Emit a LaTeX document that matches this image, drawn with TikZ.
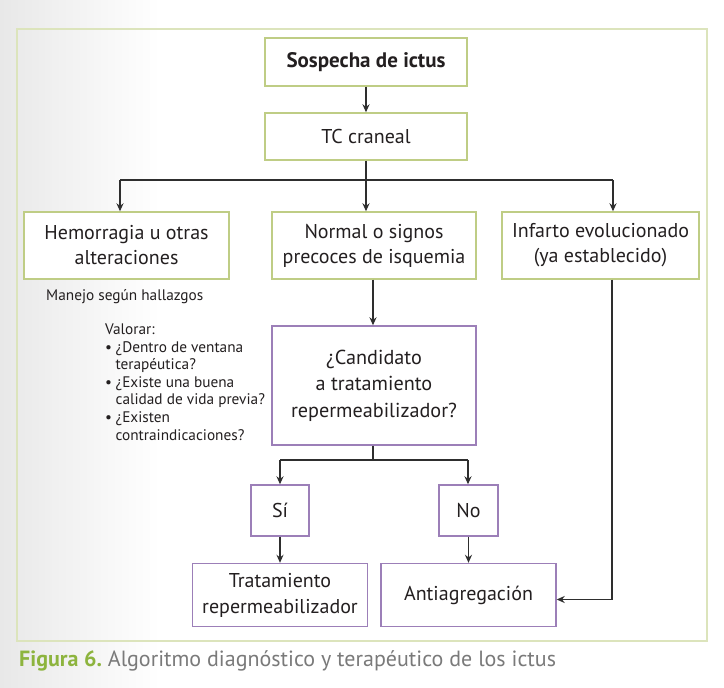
\documentclass[tikz,border=0pt]{standalone}
\usepackage{fontspec}
\setmainfont{PT Sans}
\usetikzlibrary{arrows.meta}
\definecolor{frameg}{HTML}{DCE4BC}
\definecolor{boxg}{HTML}{BFCD85}
\definecolor{boxp}{HTML}{9C7FB8}
\definecolor{capg}{HTML}{8DB43E}
\definecolor{capgray}{HTML}{7A7A7A}
\definecolor{ln}{HTML}{2E2E2E}
\definecolor{txt}{HTML}{231F20}
\begin{document}
\begin{tikzpicture}[x=1pt,y=-1pt,
  box/.style={line width=1.4pt, fill=white, align=center, inner sep=0pt,
    font=\fontsize{20}{25}\selectfont, text=txt},
  gbox/.style={box, draw=boxg},
  pbox/.style={box, draw=boxp},
  conn/.style={draw=ln, line width=1.4pt},
  arr/.style={conn, -{Stealth[length=8pt,width=7pt]}},
  note/.style={inner sep=0pt, font=\fontsize{15.3}{17.6}\selectfont, text=txt}]
\useasboundingbox (0,0) rectangle (724,688);
\fill[left color=black!9, right color=white] (0,0) rectangle (160,688);
\fill[white] (160,0) rectangle (724,688);
\draw[frameg, line width=1.6pt] (17,29) rectangle (707,641);

\node[gbox, minimum width=202pt, minimum height=48pt, font=\bfseries\fontsize{21}{25}\selectfont] (sos) at (366,62) {Sospecha de ictus};
\node[gbox, minimum width=202pt, minimum height=47pt] (tc) at (366,136.5) {TC craneal};
\node[gbox, minimum width=205pt, minimum height=67pt] (hem) at (126.5,245.5) {Hemorragia u otras\\alteraciones};
\node[gbox, minimum width=204pt, minimum height=67pt] (nor) at (374,245.5) {Normal o signos\\precoces de isquemia};
\node[gbox, minimum width=197pt, minimum height=67pt] (inf) at (600.5,245.5) {Infarto evolucionado\\(ya establecido)};
\node[pbox, minimum width=204pt, minimum height=119pt, font=\fontsize{20.2}{26.5}\selectfont] (cand) at (374,385.5) {¿Candidato\\a tratamiento\\repermeabilizador?};
\node[pbox, minimum width=58pt, minimum height=51pt] (si) at (280,510.5) {Sí};
\node[pbox, minimum width=59pt, minimum height=51pt] (no) at (468.5,510.5) {No};
\node[pbox, minimum width=175pt, minimum height=63pt, font=\fontsize{20}{26}\selectfont] (trat) at (280,595) {Tratamiento\\repermeabilizador};
\node[pbox, minimum width=175pt, minimum height=63pt] (anti) at (468.5,595) {Antiagregación};

\node[note, anchor=west] (man) at (46,297) {Manejo según hallazgos};
\node[note, anchor=north west] (val) at (105,322) {\begin{tabular}{@{}l@{\hspace{3.5pt}}l@{}}
\multicolumn{2}{@{}l@{}}{Valorar:}\\
\textbullet & ¿Dentro de ventana\\
 & terapéutica?\\
\textbullet & ¿Existe una buena\\
 & calidad de vida previa?\\
\textbullet & ¿Existen\\
 & contraindicaciones?
\end{tabular}};

\coordinate (bar) at (366,180);
\coordinate (barL) at (120,180);
\coordinate (barR) at (613,180);
\coordinate (cbar) at (373,460);
\coordinate (cbarL) at (280,460);
\coordinate (cbarR) at (468,460);
\coordinate (corner) at (612,599.5);

\draw[arr] (sos.south) -- (tc.north);
\draw[conn] (tc.south) -- (bar);
\draw[conn] (barL) -- (barR);
\draw[arr] (barL) -- (barL |- hem.north);
\draw[arr] (bar) -- (bar |- nor.north);
\draw[arr] (barR) -- (barR |- inf.north);
\draw[arr] (nor.south -| cbar) -- (cbar |- cand.north);
\draw[conn] (cbar |- cand.south) -- (cbar);
\draw[conn] (cbarL) -- (cbarR);
\draw[arr] (cbarL) -- (si.north);
\draw[arr] (cbarR) -- (cbarR |- no.north);
\draw[arr] (si.south) -- (trat.north);
\draw[arr] (no.south) -- (no.south |- anti.north);
\draw[conn] (corner |- inf.south) -- (corner);
\draw[arr] (corner) -- (corner -| anti.east);

\node[anchor=west, inner sep=0pt, font=\fontsize{22}{26}\selectfont] (cap) at (19,661)
  {\textcolor{capg}{\bfseries Figura 6.}\ \textcolor{capgray}{Algoritmo diagnóstico y terapéutico de los ictus}};
\end{tikzpicture}
\end{document}
